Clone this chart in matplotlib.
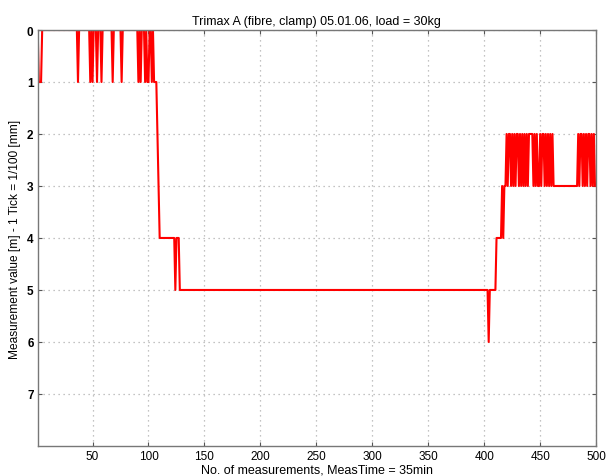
import numpy as np
import matplotlib
matplotlib.use("Agg")
import matplotlib.pyplot as plt

plt.rcParams['font.family'] = ['Liberation Sans', 'DejaVu Sans']

title = "Trimax A (fibre, clamp) 05.01.06, load = 30kg"
xlabel = "No. of measurements, MeasTime = 35min"
ylabel = "Measurement value [m] - 1 Tick = 1/100 [mm]"

# measured series, run-length encoded (level, number of consecutive samples)
levels_start = [0, 1, 0, 1, 0, 1, 0, 1, 0, 1, 0, 1, 0, 1, 0, 1, 0, 1, 0, 1, 0, 1, 0, 1, 0, 1]
counts_start = [1, 3, 32, 1, 10, 1, 1, 1, 3, 1, 3, 1, 9, 1, 7, 1, 14, 1, 1, 1, 3, 1, 1, 2, 2, 1]
levels_drop = [0, 1, 2, 3, 4, 5, 4, 5, 6, 5, 4, 3, 4, 3]
counts_drop = [1, 3, 1, 1, 14, 1, 3, 276, 1, 6, 5, 1, 1, 2]
levels_end1 = [2, 3, 2, 3, 2, 3, 2, 3, 2, 3, 2, 3, 2, 3, 2, 3, 2, 3, 2, 3, 2, 3, 2, 3, 2, 3, 2, 3, 2, 3, 2, 3, 2, 3, 2, 3]
counts_end1 = [1, 1, 2, 1, 1, 1, 1, 1, 2, 1, 1, 1, 1, 1, 1, 1, 1, 1, 4, 1, 1, 1, 1, 2, 1, 1, 2, 1, 1, 1, 1, 1, 1, 1, 1, 22]
levels_end2 = [2, 3, 2, 3, 2, 3, 2, 3, 2, 3, 2, 3, 2, 3]
counts_end2 = [1, 1, 2, 1, 1, 1, 1, 1, 2, 1, 1, 1, 1, 2]

xticks = [50, 100, 150, 200, 250, 300, 350, 400, 450, 500]
yticks = [0, 1, 2, 3, 4, 5, 6, 7]

levels = levels_start + levels_drop + levels_end1 + levels_end2
counts = counts_start + counts_drop + counts_end1 + counts_end2
values = np.repeat(levels, counts)
x = np.arange(1, len(values) + 1)

fig = plt.figure(figsize=(6.15, 4.77), dpi=100)
ax = fig.add_axes([0.0613, 0.063, 0.908, 0.872])
ax.plot(x, values, color='#ff0000', lw=1.5)
ax.set_xlim(1, 500)
ax.set_ylim(8, 0)
ax.set_xticks(xticks)
ax.set_yticks(yticks)
ax.set_yticklabels([str(t) for t in yticks], fontweight='bold')
ax.tick_params(direction='in', length=3, top=True, right=True, labelsize=8.5,
               color='#555555', pad=3)
ax.grid(True, linestyle=(0, (1, 3)), color='#b0b0b0', lw=0.9)
for s in ax.spines.values():
    s.set_color('#777777')
    s.set_linewidth(1.0)
ax.set_title(title, fontsize=9, pad=4)
ax.set_xlabel(xlabel, fontsize=9, labelpad=1)
ax.set_ylabel(ylabel, fontsize=8.6, labelpad=4)
fig.savefig("out.png", dpi=100, facecolor='white')
